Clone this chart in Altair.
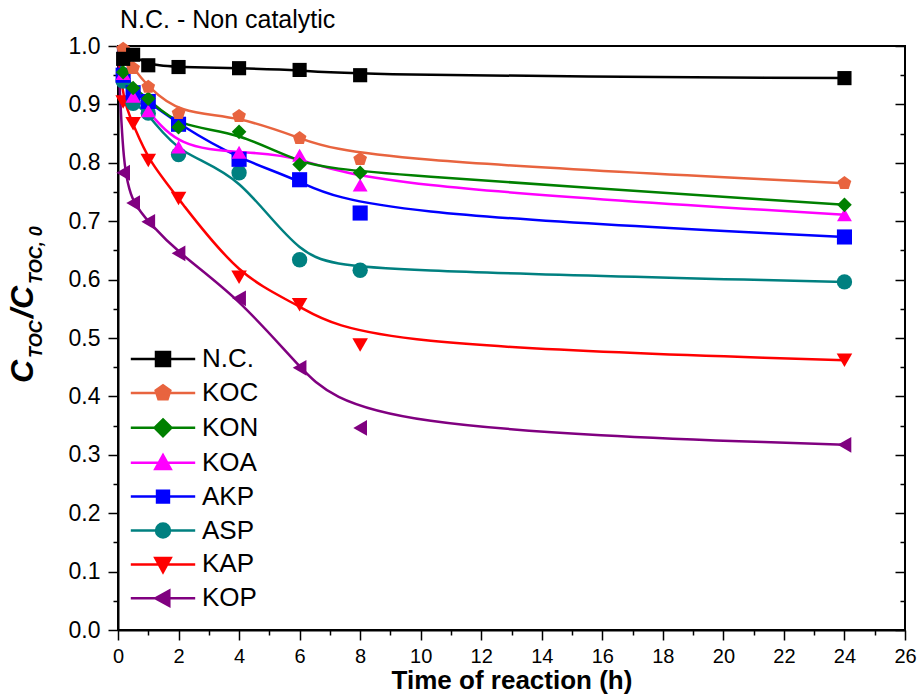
import altair as alt
import pandas as pd

series = ["N.C.", "KOC", "KON", "KOA", "AKP", "ASP", "KAP", "KOP"]
times = [0, 0.17, 0.5, 1, 2, 4, 6, 8, 24]
NC  = [1.0, 0.978, 0.985, 0.967, 0.964, 0.962, 0.959, 0.950, 0.945]
KOC = [1.0, 0.995, 0.962, 0.930, 0.885, 0.880, 0.842, 0.806, 0.765]
KON = [1.0, 0.955, 0.928, 0.910, 0.861, 0.853, 0.797, 0.783, 0.728]
KOA = [1.0, 0.953, 0.914, 0.889, 0.827, 0.818, 0.813, 0.762, 0.711]
AKP = [1.0, 0.950, 0.920, 0.905, 0.866, 0.806, 0.771, 0.714, 0.673]
ASP = [1.0, 0.940, 0.902, 0.885, 0.814, 0.783, 0.634, 0.616, 0.596]
KAP = [1.0, 0.904, 0.867, 0.804, 0.739, 0.604, 0.557, 0.488, 0.462]
KOP = [1.0, 0.783, 0.731, 0.699, 0.645, 0.568, 0.449, 0.346, 0.317]
values = [NC, KOC, KON, KOA, AKP, ASP, KAP, KOP]
colors = ["#000000", "#E8643F", "#008000", "#FF00FF", "#0000FF", "#008080", "#FF0000", "#800080"]

x_ticks = list(range(0, 27))
y_ticks = [round(i * 0.05, 2) for i in range(21)]

pent = "M0,-1L0.951,-0.309L0.588,0.809L-0.588,0.809L-0.951,-0.309Z"
point_shapes = ["square", pent, "diamond", "triangle-up", "square", "circle", "triangle-down", "triangle-left"]
point_sizes = [200, 250, 270, 250, 115, 160, 250, 250]

ln = "M-4.6,0H4.6"
leg_shapes = [
    ln + "M-1,-1H1V1H-1Z",
    ln + "M0,-1.1L1.05,-0.34L0.65,0.9L-0.65,0.9L-1.05,-0.34Z",
    ln + "M0,-1.2L1.2,0L0,1.2L-1.2,0Z",
    ln + "M0,-1.1L1.1,0.9L-1.1,0.9Z",
    ln + "M-0.85,-0.85H0.85V0.85H-0.85Z",
    ln + "M1,0A1,1,0,1,1,-1,0A1,1,0,1,1,1,0Z",
    ln + "M0,1.1L1.1,-0.9L-1.1,-0.9Z",
    ln + "M-1.1,0L0.9,-1.1L0.9,1.1Z",
]

rows = []
for s, vals in reversed(list(zip(series, values))):
    for t, v in zip(times, vals):
        rows.append({"series": s, "t": t, "v": v})
df = pd.DataFrame(rows)

FONT = "Liberation Sans"
W, H = 787, 584

xscale = alt.Scale(domain=[0, 26], nice=False)
yscale = alt.Scale(domain=[0, 1], nice=False)
cscale = alt.Scale(domain=series, range=colors)

x_axis = alt.Axis(
    values=x_ticks, grid=False, labelFlush=False,
    labelExpr="datum.value % 2 == 0 ? '' + datum.value : ''",
    tickSize={"condition": {"test": "datum.value % 2 == 0", "value": 10}, "value": 5},
    labelFontSize=20, labelFont=FONT, labelColor="black", labelPadding=6,
    domainColor="black", domainWidth=2, tickColor="black", tickWidth=1.5,
    title="Time of reaction (h)", titleFont=FONT, titleFontSize=26, titleFontWeight="bold",
    titleColor="black", titleBaseline="alphabetic", titleY=58, labelOverlap=False,
)
y_axis = alt.Axis(
    values=y_ticks, grid=False, labelFlush=False,
    labelExpr="round(datum.value*100) % 10 == 0 ? format(datum.value, '.1f') : ''",
    tickSize={"condition": {"test": "round(datum.value*100) % 10 == 0", "value": 10}, "value": 5},
    labelFontSize=23, labelFont=FONT, labelColor="black", labelPadding=8,
    domainColor="black", domainWidth=2, tickColor="black", tickWidth=1.5,
    title=None, labelOverlap=False,
)
y_axis_right = alt.Axis(
    orient="left", offset=-W, values=y_ticks, grid=False, labels=False, domain=False,
    tickSize={"condition": {"test": "round(datum.value*100) % 10 == 0", "value": 10}, "value": 5},
    tickColor="black", tickWidth=1.5, title=None,
)

lines = alt.Chart(df).mark_line(interpolate="basis", strokeWidth=2.5).encode(
    x=alt.X("t:Q", scale=xscale, axis=x_axis),
    y=alt.Y("v:Q", scale=yscale, axis=y_axis),
    color=alt.Color("series:N", scale=cscale, legend=None),
    detail="series:N",
)

points = alt.Chart(df).transform_filter("datum.t > 0").mark_point(filled=True, opacity=1).encode(
    x=alt.X("t:Q", scale=xscale, axis=None),
    y=alt.Y("v:Q", scale=yscale, axis=None),
    color=alt.Color("series:N", scale=cscale, legend=None),
    shape=alt.Shape("series:N", scale=alt.Scale(domain=series, range=point_shapes), legend=None),
    size=alt.Size("series:N", scale=alt.Scale(domain=series, range=point_sizes), legend=None),
)

leg = alt.Legend(
    orient="none", legendX=32, legendY=300, title=None,
    labelFontSize=26, labelFont=FONT, labelColor="black",
    symbolSize=196, symbolStrokeWidth=2.5, labelOffset=26, rowPadding=7.9, padding=0,
)
legend_layer = alt.Chart(df).transform_filter("datum.t < 0").mark_point(filled=True, opacity=1).encode(
    x=alt.X("t:Q", scale=xscale, axis=None),
    y=alt.Y("v:Q", scale=yscale, axis=y_axis_right),
    shape=alt.Shape("series:N", scale=alt.Scale(domain=series, range=leg_shapes), legend=leg),
    fill=alt.Fill("series:N", scale=alt.Scale(domain=series, range=colors), legend=leg),
    stroke=alt.Stroke("series:N", scale=alt.Scale(domain=series, range=colors), legend=leg),
)

one = pd.DataFrame({"a": [0]})

def txt(text, x, y, size, weight="normal", style="normal", angle=0):
    return alt.Chart(one).mark_text(
        text=text, align="left", baseline="alphabetic", font=FONT, fontSize=size,
        fontWeight=weight, fontStyle=style, angle=angle, color="black",
    ).encode(x=alt.value(x), y=alt.value(y))

title = txt("N.C. - Non catalytic", 2, -18, 25)
yt1 = txt("C", -85, 337, 32, "bold", "italic", 270)
yt2 = txt("TOC", -76, 312, 18, "bold", "italic", 270)
yt3 = txt("/C", -85, 272, 32, "bold", "italic", 270)
yt4 = txt("TOC, 0", -76, 238, 18, "bold", "italic", 270)

chart = alt.layer(lines, points, legend_layer, title, yt1, yt2, yt3, yt4).resolve_scale(
    shape="independent", fill="independent", stroke="independent"
).resolve_axis(x="independent", y="independent").properties(
    width=W, height=H,
    autosize=alt.AutoSizeParams(type="none"),
    padding={"left": 118, "top": 46, "right": 14, "bottom": 68},
).configure_view(stroke="black", strokeWidth=2)

chart.save("out.html", embed_options={"renderer": "svg", "actions": False})
